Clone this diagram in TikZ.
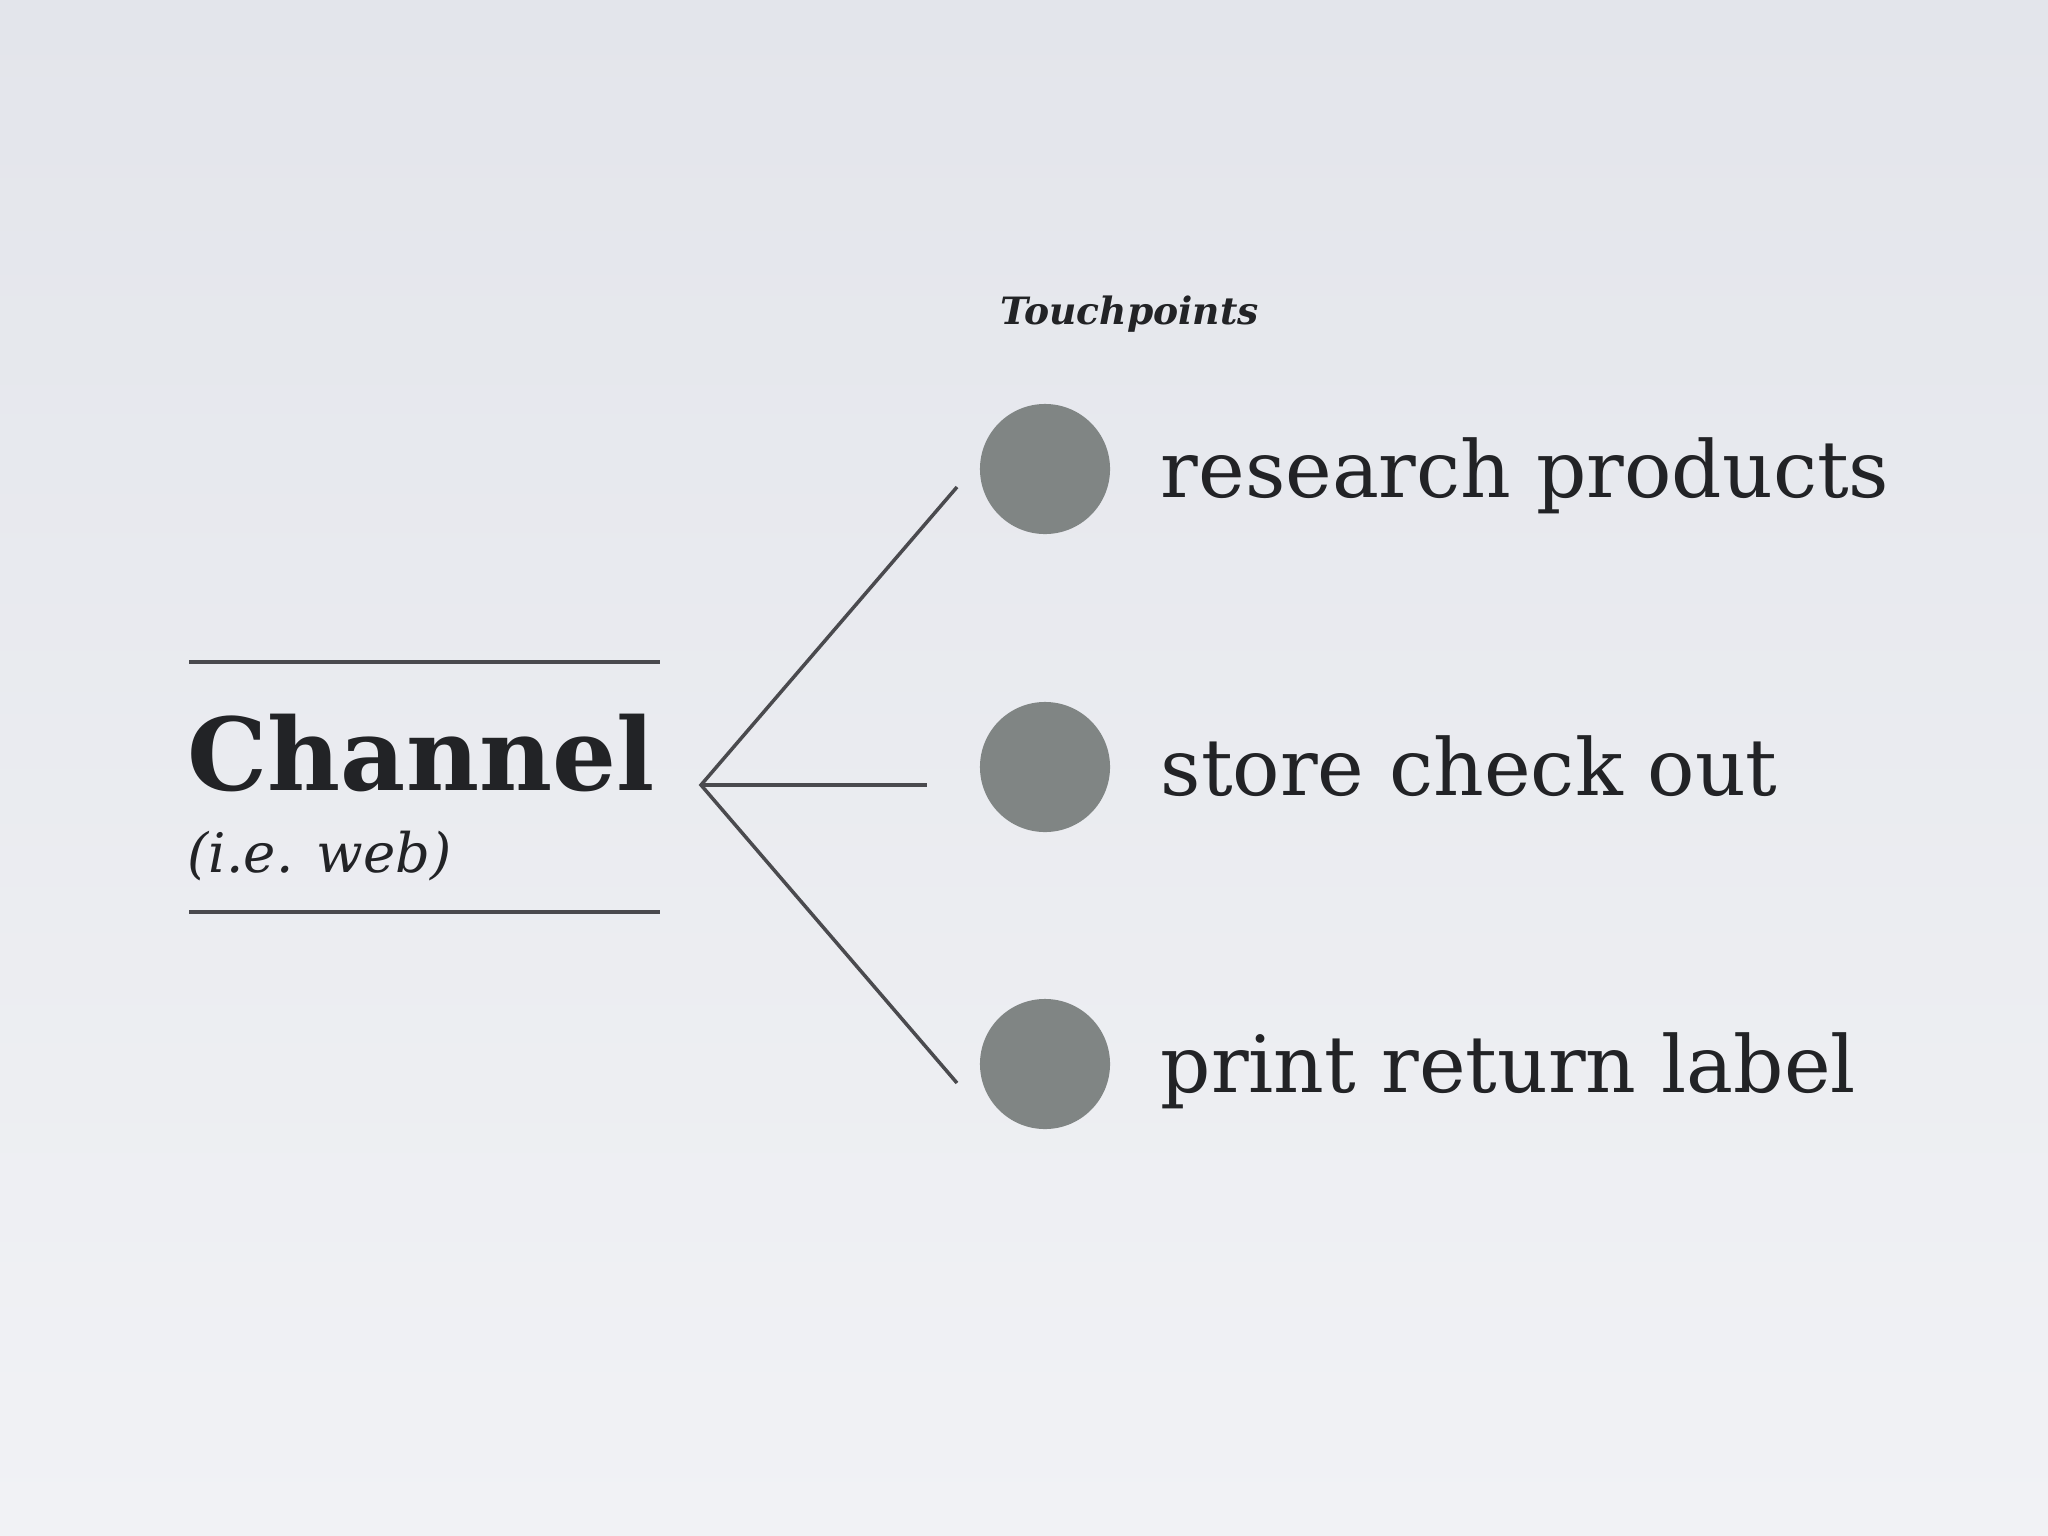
\documentclass[tikz,border=0pt]{standalone}
\usepackage{fontspec}
\setmainfont{DejaVu Serif}

\begin{document}
\begin{tikzpicture}[x=0.01cm,y=-0.01cm]
  % Colors
  \definecolor{backtop}{RGB}{227,229,235}
  \definecolor{backbottom}{RGB}{241,242,245}
  \definecolor{inkcolor}{RGB}{34,35,38}
  \definecolor{rulecolor}{RGB}{74,74,78}
  \definecolor{dotcolor}{RGB}{128,133,132}

  % Styles
  \tikzstyle{branch}=[draw=rulecolor,line width=1pt]
  \tikzstyle{rule line}=[draw=rulecolor,line width=1.1pt]
  \tikzstyle{dot}=[circle,fill=dotcolor,inner sep=0pt,minimum size=1.3cm]
  \tikzstyle{plain text}=[anchor=base west,inner sep=0pt,text=inkcolor]
  \tikzstyle{touch text}=[plain text,font=\fontsize{22.4}{26}\selectfont]

  % The background
  \shade[top color=backtop,bottom color=backbottom] (0,0) rectangle (2048,1536);
  \useasboundingbox (0,0) rectangle (2048,1536);

  % The channel
  \node[plain text,font=\bfseries\fontsize{28.6}{34}\selectfont] (channel) at (187,790) {Channel};
  \node[plain text,font=\itshape\fontsize{15.5}{19}\selectfont] (example) at (187,872) {(i.e. web)};
  \draw[style=rule line] (189,662) -- (660,662);
  \draw[style=rule line] (189,912) -- (660,912);

  % The touchpoints
  \node[plain text,font=\bfseries\itshape\fontsize{10.7}{13}\selectfont] (title) at (1000,324) {Touchpoints};

  \foreach \nm/\y/\txt in {research/469/research products,store/767/store check out,print/1064/print return label}
  {
    \node[dot] (\nm dot) at (1045,\y) {};
    \node[touch text] (\nm) at (1160,\y+28) {\txt};
  }

  \coordinate (fork) at (701,785);
  \coordinate (upper end) at (957,487);
  \coordinate (middle end) at (927,785);
  \coordinate (lower end) at (957,1083);
  \draw[style=branch] (upper end) -- (fork) -- (lower end);
  \draw[style=branch] (fork) -- (middle end);
\end{tikzpicture}
\end{document}
